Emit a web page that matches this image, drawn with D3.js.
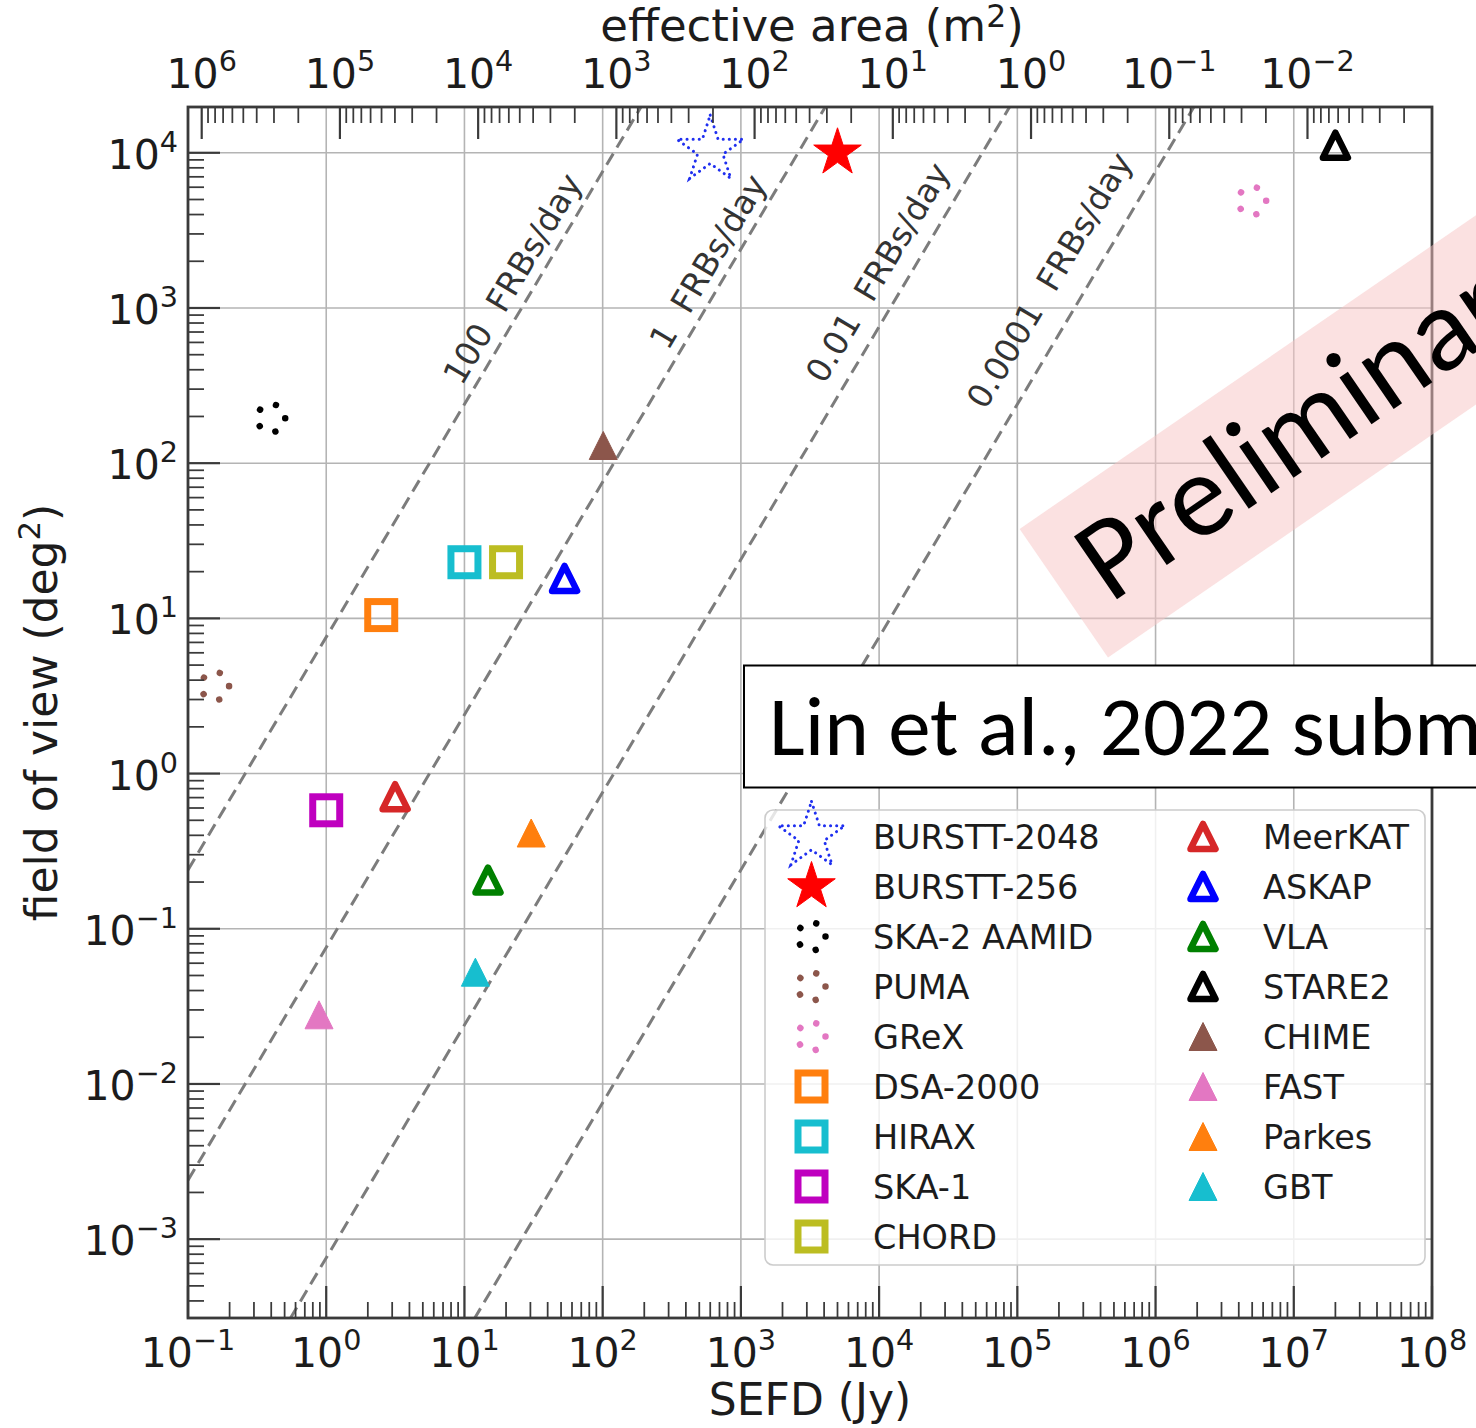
<!DOCTYPE html>
<html>
<head>
<meta charset="utf-8">
<script src="https://cdn.jsdelivr.net/npm/d3@7"></script>
<style>
  html, body { margin: 0; padding: 0; background: #ffffff; }
  svg { display: block; }
  text { font-family: "DejaVu Sans", sans-serif; }
</style>
</head>
<body>
<svg id="chart" width="1476" height="1428"></svg>
<script>
// ---- instruments: system-equivalent flux density (Jy) and field of view (deg^2)
const instruments = ["BURSTT-2048", "BURSTT-256", "SKA-2 AAMID", "PUMA", "GReX",
  "DSA-2000", "HIRAX", "SKA-1", "CHORD",
  "MeerKAT", "ASKAP", "VLA", "STARE2", "CHIME", "FAST", "Parkes", "GBT"];
const sefdJy = [600, 5000, 0.4, 0.157, 5.0e6,
  2.5, 10, 1.0, 20,
  3.15, 53, 14.8, 2.0e7, 101, 0.887, 30.4, 12];
const fovDeg2 = [10400, 10000, 195, 3.66, 4900,
  10.5, 23, 0.58, 23,
  0.71, 18.1, 0.206, 11200, 130, 0.0279, 0.414, 0.0525];

// marker kind and colour of each instrument
const markerKind = ["starDotted", "star", "ring", "ring", "ring",
  "square", "square", "square", "square",
  "triOpen", "triOpen", "triOpen", "triOpen", "triFill", "triFill", "triFill", "triFill"];
const markerColor = ["#1f2ff0", "#ff0000", "#000000", "#8c564b", "#e377c2",
  "#ff7f0e", "#17becf", "#bf00bf", "#bcbd22",
  "#d62728", "#0000ff", "#008000", "#000000", "#8c564b", "#e377c2", "#ff7f0e", "#17becf"];

// ---- constant-rate FRB lines: rate = RATE_NORM * FOV * SEFD^-1.5 (per day)
const frbRates = [100, 1, 0.01, 0.0001];
const frbRateLabels = ["100  FRBs/day", "1  FRBs/day", "0.01  FRBs/day", "0.0001  FRBs/day"];
const RATE_NORM = 13.2;
// label centre: field of view (log10) and horizontal gap to the left of its line
const frbLabelLogFov = [3.19, 3.30, 3.23, 3.18];
const frbLabelGap = [27, 26, 34, 42];

// ---- axes
const sefdDomain = [1e-1, 1e8];
const fovDomain = [Math.pow(10, -3.508), Math.pow(10, 4.295)];
const sefdExponents = [-1, 0, 1, 2, 3, 4, 5, 6, 7, 8];
const fovExponents = [-3, -2, -1, 0, 1, 2, 3, 4];
const areaExponents = [6, 5, 4, 3, 2, 1, 0, -1, -2];
// effective area from SEFD: A = 2 k Tsys / SEFD
const K_BOLTZ = 1.380649e-23, TSYS = 45.5;
const areaFromSefd = s => 2 * K_BOLTZ * TSYS / (s * 1e-26);

const svg = d3.select("#chart");
const W = 1476, H = 1428;
const box = { left: 188, right: 1432, top: 107, bottom: 1318 };

const x = d3.scaleLog().domain(sefdDomain).range([box.left, box.right]);
const y = d3.scaleLog().domain(fovDomain).range([box.bottom, box.top]);
const xa = d3.scaleLog().domain(sefdDomain.map(areaFromSefd)).range([box.left, box.right]);

svg.append("rect").attr("width", W).attr("height", H).attr("fill", "#ffffff");

svg.append("defs").append("clipPath").attr("id", "plotClip")
  .append("rect").attr("x", box.left).attr("y", box.top)
  .attr("width", box.right - box.left).attr("height", box.bottom - box.top);

const ink = "#1c1c1c";
const axisInk = "#3a3a3a";

// ---- grid
const grid = svg.append("g");
grid.selectAll("line.gx").data(sefdExponents.map(e => Math.pow(10, e))).join("line")
  .attr("x1", d => x(d)).attr("x2", d => x(d))
  .attr("y1", box.top).attr("y2", box.bottom)
  .attr("stroke", "#b4b4b4").attr("stroke-width", 1.6);
grid.selectAll("line.gy").data(fovExponents.map(e => Math.pow(10, e))).join("line")
  .attr("x1", box.left).attr("x2", box.right)
  .attr("y1", d => y(d)).attr("y2", d => y(d))
  .attr("stroke", "#b4b4b4").attr("stroke-width", 1.6);

// ---- FRB rate lines
const frbG = svg.append("g").attr("clip-path", "url(#plotClip)");
const lineFov = (rate, s) => rate / RATE_NORM * Math.pow(s, 1.5);
frbRates.forEach(r => {
  frbG.append("line")
    .attr("x1", x(sefdDomain[0])).attr("y1", y(lineFov(r, sefdDomain[0])))
    .attr("x2", x(sefdDomain[1])).attr("y2", y(lineFov(r, sefdDomain[1])))
    .attr("stroke", "#7c7c7c").attr("stroke-width", 3)
    .attr("stroke-dasharray", "13,7");
});

// line angle on screen
const p0 = [x(1), y(lineFov(1, 1))], p1 = [x(10), y(lineFov(1, 10))];
const lineAngle = Math.atan2(p1[1] - p0[1], p1[0] - p0[0]) * 180 / Math.PI;

frbRates.forEach((r, i) => {
  const fv = Math.pow(10, frbLabelLogFov[i]);
  const s = Math.pow(fv * RATE_NORM / r, 1 / 1.5);
  const cx = x(s) - frbLabelGap[i], cy = y(fv);
  svg.append("text")
    .attr("transform", `translate(${cx},${cy}) rotate(${lineAngle})`)
    .attr("text-anchor", "middle").attr("dy", "0.36em")
    .attr("font-size", 33).attr("fill", "#333")
    .style("white-space", "pre")
    .text(frbRateLabels[i]);
});

// ---- marker drawing
function starPath(R) {
  const pts = [];
  for (let k = 0; k < 10; k++) {
    const rr = k % 2 === 0 ? R : R * 0.381966;
    const a = -Math.PI / 2 + k * Math.PI / 5;
    pts.push([rr * Math.cos(a), rr * Math.sin(a)]);
  }
  return "M" + pts.map(p => p.join(",")).join("L") + "Z";
}
function triPath(h) {
  return `M0,${-h}L${h},${h}L${-h},${h}Z`;
}
function drawMarker(g, kind, color, cx, cy) {
  const m = g.append("g").attr("transform", `translate(${cx},${cy})`);
  if (kind === "star") {
    m.append("path").attr("d", starPath(25)).attr("fill", color).attr("stroke", color).attr("stroke-width", 1);
  } else if (kind === "starDotted") {
    m.append("path").attr("d", starPath(35)).attr("fill", "none").attr("stroke", color)
      .attr("stroke-width", 3).attr("stroke-linecap", "round").attr("stroke-dasharray", "0.1,6");
  } else if (kind === "ring") {
    const r = 14, c = 2 * Math.PI * r;
    m.append("circle").attr("r", r).attr("fill", "none").attr("stroke", color)
      .attr("stroke-width", 6.5).attr("stroke-linecap", "round")
      .attr("stroke-dasharray", `0.01,${c / 5 - 0.01}`);
  } else if (kind === "square") {
    m.append("rect").attr("x", -13.5).attr("y", -13.5).attr("width", 27).attr("height", 27)
      .attr("fill", "none").attr("stroke", color).attr("stroke-width", 7);
  } else if (kind === "triOpen") {
    m.append("path").attr("d", triPath(12.5)).attr("fill", "none").attr("stroke", color)
      .attr("stroke-width", 6.5).attr("stroke-linejoin", "round");
  } else if (kind === "triFill") {
    m.append("path").attr("d", triPath(14)).attr("fill", color).attr("stroke", color).attr("stroke-width", 1);
  }
}

const marks = svg.append("g");
instruments.forEach((name, i) => {
  drawMarker(marks, markerKind[i], markerColor[i], x(sefdJy[i]), y(fovDeg2[i]));
});

// ---- axes frame and ticks
const axes = svg.append("g");
function minorTicks(lo, hi) {
  const out = [];
  const a = Math.min(lo, hi), b = Math.max(lo, hi);
  for (let e = Math.floor(Math.log10(a)) - 1; e <= Math.ceil(Math.log10(b)); e++) {
    for (let m = 2; m <= 9; m++) {
      const v = m * Math.pow(10, e);
      if (v > a && v < b) out.push(v);
    }
  }
  return out;
}
const majorLen = 32, minorLen = 16, tickW = 2.2;
// bottom
axes.selectAll(null).data(sefdExponents.map(e => Math.pow(10, e))).join("line")
  .attr("x1", d => x(d)).attr("x2", d => x(d)).attr("y1", box.bottom).attr("y2", box.bottom - majorLen)
  .attr("stroke", axisInk).attr("stroke-width", tickW);
axes.selectAll(null).data(minorTicks(...sefdDomain)).join("line")
  .attr("x1", d => x(d)).attr("x2", d => x(d)).attr("y1", box.bottom).attr("y2", box.bottom - minorLen)
  .attr("stroke", axisInk).attr("stroke-width", tickW * 0.8);
// left
axes.selectAll(null).data(fovExponents.map(e => Math.pow(10, e))).join("line")
  .attr("y1", d => y(d)).attr("y2", d => y(d)).attr("x1", box.left).attr("x2", box.left + majorLen)
  .attr("stroke", axisInk).attr("stroke-width", tickW);
axes.selectAll(null).data(minorTicks(...fovDomain)).join("line")
  .attr("y1", d => y(d)).attr("y2", d => y(d)).attr("x1", box.left).attr("x2", box.left + minorLen)
  .attr("stroke", axisInk).attr("stroke-width", tickW * 0.8);
// top (effective area)
const areaDomain = xa.domain();
axes.selectAll(null).data(areaExponents.map(e => Math.pow(10, e))).join("line")
  .attr("x1", d => xa(d)).attr("x2", d => xa(d)).attr("y1", box.top).attr("y2", box.top + majorLen)
  .attr("stroke", axisInk).attr("stroke-width", tickW);
axes.selectAll(null).data(minorTicks(...areaDomain)).join("line")
  .attr("x1", d => xa(d)).attr("x2", d => xa(d)).attr("y1", box.top).attr("y2", box.top + minorLen)
  .attr("stroke", axisInk).attr("stroke-width", tickW * 0.8);

axes.append("rect").attr("x", box.left).attr("y", box.top)
  .attr("width", box.right - box.left).attr("height", box.bottom - box.top)
  .attr("fill", "none").attr("stroke", axisInk).attr("stroke-width", 2.8);

// ---- tick labels
const tickSize = 41, supRaise = 17;
function powLabel(e, px, py, anchor) {
  const t = svg.append("text").attr("x", px).attr("y", py).attr("text-anchor", anchor)
    .attr("font-size", tickSize).attr("fill", ink);
  t.append("tspan").text("10");
  t.append("tspan").attr("dy", -supRaise).attr("font-size", tickSize * 0.7)
    .text(e < 0 ? "\u2212" + (-e) : String(e));
}
sefdExponents.forEach(e => powLabel(e, x(Math.pow(10, e)), box.bottom + 49, "middle"));
fovExponents.forEach(e => powLabel(e, box.left - 10, y(Math.pow(10, e)) + 16, "end"));
areaExponents.forEach(e => powLabel(e, xa(Math.pow(10, e)), box.top - 19, "middle"));

// ---- axis titles
const titleSize = 44;
svg.append("text").attr("x", (box.left + box.right) / 2).attr("y", 1415)
  .attr("text-anchor", "middle").attr("font-size", titleSize).attr("fill", ink).text("SEFD (Jy)");
const topTitle = svg.append("text").attr("x", (box.left + box.right) / 2 + 2).attr("y", 41)
  .attr("text-anchor", "middle").attr("font-size", 45).attr("fill", ink);
topTitle.append("tspan").text("effective area (m");
topTitle.append("tspan").attr("dy", -14).attr("font-size", 45 * 0.7).text("2");
topTitle.append("tspan").attr("dy", 14).text(")");
const leftTitle = svg.append("text")
  .attr("transform", `translate(57,${(box.top + box.bottom) / 2}) rotate(-90)`)
  .attr("text-anchor", "middle").attr("font-size", titleSize).attr("fill", ink);
leftTitle.append("tspan").text("field of view (deg");
leftTitle.append("tspan").attr("dy", -17).attr("font-size", titleSize * 0.7).text("2");
leftTitle.append("tspan").attr("dy", 17).text(")");

// ---- legend
const legend = svg.append("g");
legend.append("rect").attr("x", 765).attr("y", 810).attr("width", 660).attr("height", 455)
  .attr("rx", 8).attr("fill", "#ffffff").attr("fill-opacity", 0.8)
  .attr("stroke", "#cccccc").attr("stroke-width", 1.6);
const legendCols = [{ mx: 811.5, tx: 873, from: 0, to: 9 }, { mx: 1203, tx: 1263, from: 9, to: 17 }];
legendCols.forEach(col => {
  for (let i = col.from; i < col.to; i++) {
    const ry = 836.5 + (i - col.from) * 50;
    drawMarker(legend, markerKind[i], markerColor[i], col.mx, ry);
    legend.append("text").attr("x", col.tx).attr("y", ry + 12)
      .attr("font-size", 33.5).attr("fill", ink).text(instruments[i]);
  }
});

// ---- overlay: preliminary banner and citation box
const overlayFont = "Carlito, Calibri, Lato, sans-serif";
const banner = svg.append("g").attr("transform", "translate(1108,657.5) rotate(-34.5)");
banner.append("rect").attr("x", 0).attr("y", -156).attr("width", 900).attr("height", 156)
  .attr("fill", "#f7c4c4").attr("fill-opacity", 0.5);
const prelim = banner.append("text").attr("x", 32).attr("y", -43)
  .style("font-family", overlayFont).attr("fill", "#000").text("Preliminary");
// size the banner word so that "Preliminar" spans 497 px
prelim.attr("font-size", 100);
const prelimW = prelim.node().getSubStringLength(0, 10);
prelim.attr("font-size", 100 * 497 / prelimW);

svg.append("rect").attr("x", 744).attr("y", 665.5).attr("width", 800).attr("height", 122)
  .attr("fill", "#ffffff").attr("stroke", "#000").attr("stroke-width", 2);
const cite = svg.append("text").attr("x", 769).attr("y", 755)
  .style("font-family", overlayFont).attr("fill", "#000").text("Lin et al., 2022 submitted");
cite.attr("font-size", 100);
const citeW = cite.node().getSubStringLength(0, 21);
cite.attr("font-size", 100 * 713 / citeW);
</script>
</body>
</html>
